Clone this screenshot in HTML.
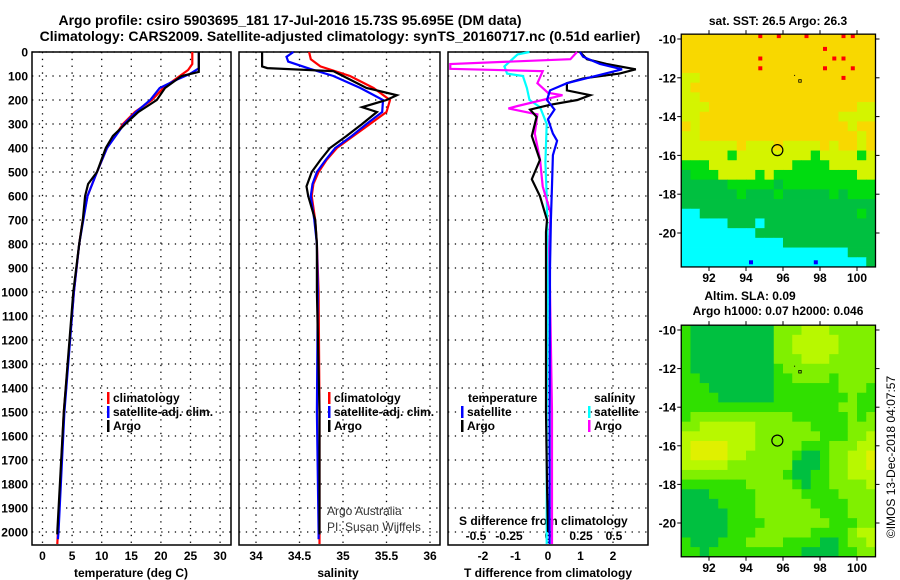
<!DOCTYPE html>
<html><head><meta charset="utf-8"><style>
html,body{margin:0;padding:0;background:#fff;}
svg{display:block;font-family:"Liberation Sans",Arial,sans-serif;}
.t{font-weight:bold;font-size:12px;fill:#000;}
.h{font-weight:bold;font-size:14px;fill:#000;}
</style></head><body>
<svg id="s" width="900" height="580" viewBox="0 0 900 580" xmlns="http://www.w3.org/2000/svg">
<rect width="900" height="580" fill="#fff"/>
<text class="h" x="290" y="25" text-anchor="middle">Argo profile: csiro 5903695_181 17-Jul-2016 15.73S 95.695E (DM data)</text>
<text class="h" x="340" y="41" text-anchor="middle">Climatology: CARS2009. Satellite-adjusted climatology: synTS_20160717.nc (0.51d earlier)</text>
<g id="g"></g>
</svg>
<script>
// ---- data ----
const depthTicks=[0,100,200,300,400,500,600,700,800,900,1000,1100,1200,1300,1400,1500,1600,1700,1800,1900,2000];
const tempTicks=[0,5,10,15,20,25,30];
const salTicks=[34,34.5,35,35.5,36];
const tdiffTicks=[-2,-1,0,1,2];
const sdiffTicks=[-0.5,-0.25,0,0.25,0.5];
const tempClimDepth=[0,50,75,100,150,200,250,300,400,500,600,700,800,1000,1500,2000,2050];
const tempClim=[25.3,25.3,24.6,23.2,20.4,18.5,15.6,13.6,10.9,9.2,7.6,6.8,6.2,5.3,3.6,2.6,2.5];
const tempSatDepth=[0,68,90,115,150,200,250,300,400,500,600,700,800,1000,1500,2000,2030];
const tempSat=[26.4,26.4,25.0,22.7,19.8,18.2,15.8,13.8,10.9,9.2,7.6,6.9,6.2,5.3,3.7,2.7,2.6];
const tempArgoDepth=[0,83,100,150,200,250,300,350,400,500,550,600,700,800,1000,1500,2000,2010];
const tempArgo=[26.4,26.4,23.5,20.7,19.3,16.2,14.0,11.9,10.7,9.2,7.7,7.2,6.8,6.2,5.2,3.6,2.5,2.5];
const salClimDepth=[0,30,60,100,150,200,250,300,350,400,450,500,550,600,700,800,1000,1500,2000,2050];
const salClim=[34.61,34.63,34.74,35.08,35.35,35.54,35.5,35.31,35.12,34.93,34.81,34.72,34.66,34.64,34.68,34.7,34.72,34.73,34.73,34.73];
const salSatDepth=[0,20,40,70,100,150,200,250,300,350,400,450,500,550,600,700,800,1000,1500,2000,2030];
const salSat=[34.43,34.35,34.37,34.62,34.89,35.2,35.46,35.45,35.27,35.1,34.91,34.8,34.7,34.65,34.63,34.67,34.7,34.71,34.7,34.72,34.72];
const salArgoDepth=[0,60,67,80,100,150,180,200,230,250,300,350,400,450,500,560,600,700,800,1000,1500,2000,2010];
const salArgo=[34.07,34.07,34.13,34.89,35.0,35.27,35.62,35.5,35.22,35.39,35.22,35.04,34.85,34.74,34.64,34.58,34.6,34.68,34.7,34.7,34.73,34.73,34.73];
const tdSatDepth=[0,20,50,72,130,160,200,240,280,340,370,430,570,700,900,1500,2000,2050];
const tdSat=[0.98,1.08,1.6,2.28,0.58,0.06,-0.03,0.2,0,0.15,0.28,0.15,0.12,0.09,0.06,0.05,0.05,0.05];
const tdArgoDepth=[0,30,50,72,90,110,130,160,180,200,220,240,270,350,450,530,600,700,750,1500,1800,2000];
const tdArgo=[0.98,1.2,1.8,2.7,2.2,1.08,0.58,0.58,1.3,0.9,0.06,-0.55,-0.35,-0.5,-0.25,-0.5,-0.25,-0.03,-0.06,-0.06,-0.03,0];
const sdArgoDepth=[0,30,50,70,80,130,170,180,225,235,260,340,450,560,670,820,1500,2000,2050];
const sdArgo=[0.22,0.17,-0.74,-0.74,-0.04,-0.08,0,0.11,-0.23,-0.3,-0.08,-0.1,-0.06,-0.04,0.02,0.01,0.03,0.03,0.03];
const sdSatDepth=[0,10,60,90,100,150,200,230,300,460,600,900,1500,2000,2050];
const sdSat=[-0.14,-0.23,-0.33,-0.31,-0.19,-0.16,-0.14,-0.06,-0.01,-0.02,-0.01,0,-0.01,-0.01,-0.01];
const lonTicks=[92,94,96,98,100];
const latTicks=[-10,-12,-14,-16,-18,-20];
const sstRows=["oooooooororoorooorroo","ooooooooooooooorooooo","oooooooorooooooorrooo","oooooooorooooooroorooo","yyoooooooooooooooroooo","yoooooooooooooooooooo","yyoooooooooooooooooooo","yyyooooooooooooooooyy","yyoooooooooooooooyyyy","oyooooooooooooooooyoo","yyoooooooooooooooooyo","yyyyyyoyyyoyyyyoyooyo","yyyyygyyyyyyyygyyyygy","gggyyyyyyyyyggggyyyyy","dgggyyyygygggggggggyy","dddddgggggdgggggggggg","ddddddgdddgdddddgdggg","ddddddddddddddddddddd","ccdddddddddddddddddgd","cccccdddcdddddddddddd","ccccccccddddddddddddd","cccccccccccdddddddddd","ccccccccccccccccccddd","cccccccbccccccbcccccd"];
const slaRows=["211111111133344433333","211111111133444443333","211111111133444443333","211111111133344433333","211111111123333333333","221111111122333323333","222111111122222223332","222211111122222222322","222222222222222223322","233333333333222222323","334444443333332222333","444444443333333222334","455554443333322233344","455554433333211233445","444443333333111233445","333333333332112233444","222222233333212233334","111222223333322223333","111122223333332222333","111112223333333222333","111112222333333322233","111112223333332222344","211122233332222112334","221222222222211112233"];
const argoLon=95.695, argoLat=-15.73;

// ---- helpers ----
const NS="http://www.w3.org/2000/svg";
const G=document.getElementById('g');
function el(tag,at,parent){const e=document.createElementNS(NS,tag);for(const k in at)e.setAttribute(k,at[k]);(parent||G).appendChild(e);return e;}
function txt(x,y,s,cls,anchor,parent){const e=el('text',{x:x,y:y,class:cls||'t','text-anchor':anchor||'start'},parent);e.textContent=s;return e;}
const TOP=52,BOT=545;
const yD=d=>TOP+d*0.24;
const xT=v=>42.5+v*5.92;
const xS=v=>256+(v-34)*87;
const xTD=v=>548+v*32.5;
const xSD=v=>548+v*132;
const panels=[[32,231,'temperature-panel'],[239,440,'salinity-panel'],[448,648,'difference-panel']];
function line(xs,ds,fx,color,name){
  const pts=xs.map((v,i)=>fx(v).toFixed(1)+','+yD(ds[i]).toFixed(1)).join(' ');
  const p=el('polyline',{points:pts,fill:'none',stroke:color,'stroke-width':2.2,'stroke-linejoin':'miter'});
  
  
}
panels.forEach(([l,r,n],pi)=>{
  const g=el('g',{});
  
  
  depthTicks.forEach(d=>{const y=yD(d);el('line',{x1:l,x2:r,y1:y,y2:y,stroke:'#000','stroke-width':1.3,'stroke-dasharray':'1.3 5.5'},g);});
  let ticks=pi==0?tempTicks:pi==1?salTicks:[-2,0,2];
  let fx=pi==0?xT:pi==1?xS:xTD;
  ticks.forEach(t=>{const x=fx(t);el('line',{x1:x,x2:x,y1:TOP,y2:BOT,stroke:'#000','stroke-width':1.3,'stroke-dasharray':'1.3 5.5'},g);});
  el('rect',{x:l,y:TOP,width:r-l,height:BOT-TOP,fill:'none',stroke:'#000','stroke-width':1.5},g);
});
depthTicks.forEach(d=>{const t=txt(28,yD(d)+4.5,String(d),'t','end');});
tempTicks.forEach(v=>{const t=txt(xT(v),560,String(v),'t','middle');});
salTicks.forEach(v=>{const t=txt(xS(v),560,String(v),'t','middle');});
tdiffTicks.forEach(v=>{const t=txt(xTD(v),560,String(v),'t','middle');});
sdiffTicks.forEach(v=>{const t=txt(xSD(v)+(v<0?-6:0),540,String(v),'t','middle');});
[[131,'temperature (deg C)','x-axis-title-temperature'],[338,'salinity','x-axis-title-salinity'],[548,'T difference from climatology','x-axis-title-t-diff']].forEach(a=>{const t=txt(a[0],577,a[1],'t','middle');});
{const t=txt(459,525,'S difference from climatology','t','start');}

line(tempClim,tempClimDepth,xT,'#ff0000','temp-climatology-line');
line(tempSat,tempSatDepth,xT,'#0000ff','temp-satellite-line');
line(tempArgo,tempArgoDepth,xT,'#000000','temp-argo-line');
line(salClim,salClimDepth,xS,'#ff0000','sal-climatology-line');
line(salSat,salSatDepth,xS,'#0000ff','sal-satellite-line');
line(salArgo,salArgoDepth,xS,'#000000','sal-argo-line');
line(sdSat,sdSatDepth,xSD,'#00ffff','sdiff-satellite-line');
line(sdArgo,sdArgoDepth,xSD,'#ff00ff','sdiff-argo-line');
line(tdArgo,tdArgoDepth,xTD,'#000000','tdiff-argo-line');
line(tdSat,tdSatDepth,xTD,'#0000ff','tdiff-satellite-line');

function legend(x,y,color,label,name){
  const g=el('g',{});
  
  
  el('rect',{x:x,y:y-10,width:2.5,height:12,fill:color},g);
  txt(x+6,y,label,'t','start',g);
}
legend(107,402,'#ff0000','climatology','legend-temp-climatology');
legend(107,416,'#0000ff','satellite-adj. clim.','legend-temp-satellite');
legend(107,430,'#000000','Argo','legend-temp-argo');
legend(328,402,'#ff0000','climatology','legend-sal-climatology');
legend(328,416,'#0000ff','satellite-adj. clim.','legend-sal-satellite');
legend(328,430,'#000000','Argo','legend-sal-argo');
{const t=txt(468,402,'temperature','t','start');}
{const t=txt(594,402,'salinity','t','start');}
legend(461,416,'#0000ff','satellite','legend-tdiff-satellite');
legend(461,430,'#000000','Argo','legend-tdiff-argo');
legend(588,416,'#00ffff','satellite','legend-sdiff-satellite');
legend(588,430,'#ff00ff','Argo','legend-sdiff-argo');
{const t=txt(327,515,'Argo Australia','t','start');t.setAttribute('style','font-weight:normal;fill:#333');}
{const t=txt(327,531,'PI: Susan Wijffels','t','start');t.setAttribute('style','font-weight:normal;fill:#333');}

// ---- maps ----
const mx=lon=>681.25+(lon-90.5)*18.5;
const sstC={o:'#f8d800',y:'#d4f400',g:'#00dc10',d:'#00c040',c:'#00ffff',r:'#f8d800',b:'#00ffff'};
const spotC={r:'#ff0000',b:'#0000ff'};
const slaC={'1':'#00c040','2':'#30e000','3':'#80f000','4':'#b8f800','5':'#e0f000'};
function map(rows,colors,sc,y10,name){
  const yy=lat=>y10+(-10-lat)*sc;
  const g=el('g',{});
  
  
  const spots=[];
  rows.forEach((row,ri)=>{
    for(let ci=0;ci<21;ci++){
      const ch=row[Math.min(ci,row.length-1)];
      const lon=90.5+ci*0.5, lat=-9.75-ri*0.5;
      const c=el('rect',{x:mx(lon).toFixed(2),y:yy(lat).toFixed(2),width:(18.5*0.5+0.4).toFixed(2),height:(sc*0.5+0.4).toFixed(2),fill:colors[ch]},g);
      
      
      if(spotC[ch])spots.push([mx(lon)+3,yy(lat)+(ri==0?0:3),spotC[ch]]);
    }
  });
  spots.forEach(s=>{
    const c=el('rect',{x:s[0].toFixed(1),y:s[1].toFixed(1),width:4,height:4,fill:s[2]},g);
    
    
  });
  const top=yy(-9.75),bot=yy(-21.75);
  el('rect',{x:mx(90.5),y:top,width:mx(101)-mx(90.5),height:bot-top,fill:'none',stroke:'#000','stroke-width':1.3},g);
  lonTicks.forEach(v=>{el('line',{x1:mx(v),x2:mx(v),y1:bot,y2:bot+4,stroke:'#000'},g);el('line',{x1:mx(v),x2:mx(v),y1:top,y2:top-4,stroke:'#000'},g);txt(mx(v),bot+15,String(v),'t','middle',g);});
  latTicks.forEach(v=>{el('line',{x1:mx(90.5)-4,x2:mx(90.5),y1:yy(v),y2:yy(v),stroke:'#000'},g);el('line',{x1:mx(101),x2:mx(101)+4,y1:yy(v),y2:yy(v),stroke:'#000'},g);txt(676,yy(v)+4.5,String(v),'t','end',g);});
  const c=el('circle',{cx:mx(argoLon),cy:yy(argoLat),r:5.5,fill:'none',stroke:'#000','stroke-width':1.2},g);
  
  
  el('rect',{x:mx(96.6),y:yy(-11.85),width:1,height:1,fill:'#000'},g);
  el('rect',{x:mx(96.85),y:yy(-12.15)-1,width:2.5,height:2.5,fill:'none',stroke:'#000','stroke-width':0.8},g);
}
map(sstRows,sstC,19.4,39,'sst-map');
map(slaRows,slaC,19.3,330,'sla-map');
{const t=txt(778,25,'sat. SST: 26.5 Argo: 26.3','t','middle');}
{const t=txt(750,300,'Altim. SLA: 0.09','t','middle');}
{const t=txt(778,315,'Argo h1000: 0.07 h2000: 0.046','t','middle');}
{const t=txt(0,0,'©IMOS 13-Dec-2018 04:07:57','t','middle');t.setAttribute('style','font-weight:normal;font-size:12px');t.setAttribute('transform','translate(895,457) rotate(-90)');}
</script>
</body></html>
